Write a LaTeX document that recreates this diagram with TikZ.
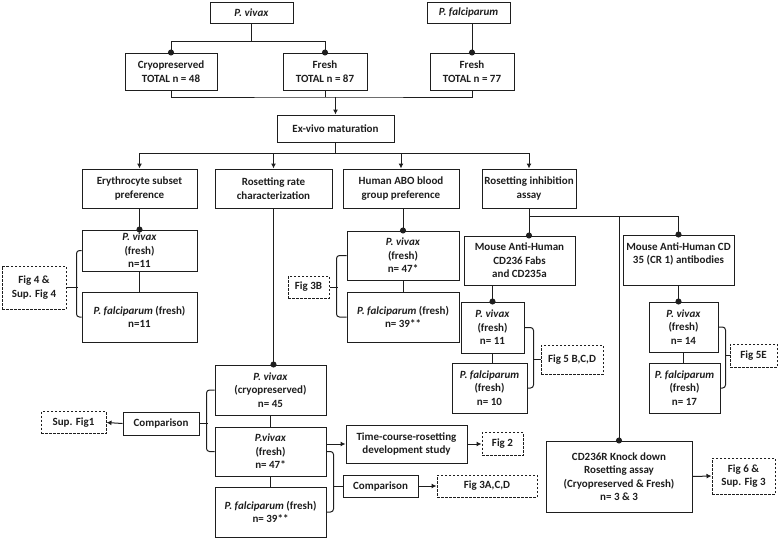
\documentclass[tikz,border=0pt]{standalone}
\usepackage{fontspec}
\setmainfont{Carlito}
\usetikzlibrary{arrows.meta}

\definecolor{linecolor}{RGB}{30,30,30}

\tikzset{
  box/.style={draw, align=center, inner sep=2pt, font=\fontsize{11}{13.5}\selectfont\bfseries},
  figbox/.style={box, dash pattern=on 2.5pt off 1.5pt},
  wh/.style 2 args={minimum width=#1, minimum height=#2},
  arr/.style={-{Latex[length=5pt,width=5pt]}},
  dotend/.style={-{Circle[length=6pt]}, shorten >=-3pt},
  brace/.style={rounded corners=3pt},
}

\begin{document}
\begin{tikzpicture}[x=1pt, y=-1pt, line width=1pt, color=linecolor]
  \useasboundingbox (0,0) rectangle (779,539);

  % Species and samples
  \node[box, wh={83}{21}] (pv) at (251.5,12.5) {\textit{P. vivax}};
  \node[box, wh={83}{21}] (pf) at (468.5,12.5) {\textit{P. falciparum}};
  \node[box, wh={92}{37}] (cryo) at (171,71.5) {Cryopreserved\\TOTAL n = 48};
  \node[box, wh={84}{37}] (pvfresh) at (325,71.5) {Fresh\\TOTAL n = 87};
  \node[box, wh={84}{37}] (pffresh) at (472,71.5) {Fresh\\TOTAL n = 77};
  \node[box, wh={117}{27}] (exvivo) at (335.5,128.5) {Ex-vivo maturation};

  % Studies
  \node[box, wh={115}{39}] (ery) at (139.5,188.5) {Erythrocyte subset\\preference};
  \node[box, wh={117}{39}] (rate) at (273.5,188.5) {Rosetting rate\\characterization};
  \node[box, wh={116}{39}] (abo) at (401,188.5) {Human ABO blood\\group preference};
  \node[box, wh={94}{39}] (inhib) at (529,188.5) {Rosetting inhibition\\assay};

  % Erythrocyte subset preference
  \node[box, wh={115}{41}] (eryPv) at (139.5,250.5) {\textit{P. vivax}\\(fresh)\\n=11};
  \node[box, wh={115}{50}] (eryPf) at (139.5,317) {\textit{P. falciparum} (fresh)\\n=11};
  \node[figbox, wh={64}{43}] (fig4) at (34,287.5) {Fig 4 \&\\Sup. Fig 4};

  % Human ABO blood group preference
  \node[box, wh={112}{49}] (aboPv) at (403,255.5) {\textit{P. vivax}\\(fresh)\\n= 47*};
  \node[box, wh={112}{50}] (aboPf) at (403,317) {\textit{P. falciparum} (fresh)\\n= 39**};
  \node[figbox, wh={41}{22}] (fig3b) at (308.5,287) {Fig 3B};

  % Rosetting inhibition assay
  \node[box, wh={111}{49}] (mouse1) at (519.5,260.5) {Mouse Anti-Human\\CD236 Fabs\\and CD235a};
  \node[box, wh={111}{50}] (mouse2) at (678.5,260) {Mouse Anti-Human CD\\35 (CR 1) antibodies\\\mbox{}};
  \node[box, wh={63}{51}] (m1Pv) at (492.5,327.5) {\textit{P. vivax}\\(fresh)\\n= 11};
  \node[box, wh={75}{50}] (m1Pf) at (489.5,388) {\textit{P. falciparum}\\(fresh)\\n= 10};
  \node[figbox, wh={62}{29}] (fig5bcd) at (572,359.5) {Fig 5 B,C,D};
  \node[box, wh={69}{50}] (m2Pv) at (683.5,327) {\textit{P. vivax}\\(fresh)\\n= 14};
  \node[box, wh={71}{50}] (m2Pf) at (684.5,388) {\textit{P. falciparum}\\(fresh)\\n= 17};
  \node[figbox, wh={47}{23}] (fig5e) at (753.5,355.5) {Fig 5E};
  \node[box, wh={146}{71}] (cd236r) at (619,476.5) {CD236R Knock down\\Rosetting assay\\(Cryopreserved \& Fresh)\\n= 3 \& 3};
  \node[figbox, wh={63}{36}] (fig6) at (743.5,476) {Fig 6 \&\\Sup. Fig 3};

  % Rosetting rate characterization
  \node[box, wh={111}{50}] (cryoPv) at (270.5,390) {\textit{P. vivax}\\(cryopreserved)\\n= 45};
  \node[box, wh={111}{49}] (freshPv) at (270.5,451.5) {\textit{P.vivax}\\(fresh)\\n= 47*};
  \node[box, wh={111}{50}] (freshPf) at (270.5,512) {\textit{P. falciparum} (fresh)\\n= 39**};
  \node[box, wh={76}{23}] (cmp1) at (161,423.5) {Comparison};
  \node[figbox, wh={65}{22}] (supfig1) at (73.5,422.5) {Sup. Fig1};
  \node[box, wh={121}{38}] (timecourse) at (406.5,444) {Time-course-rosetting\\development study};
  \node[figbox, wh={41}{23}] (fig2) at (502.5,444) {Fig 2};
  \node[box, wh={75}{22}] (cmp2) at (380.5,486) {Comparison};
  \node[figbox, wh={100}{22}] (fig3acd) at (487,486) {Fig 3A,C,D};

  % Connectors at the top
  \draw[dotend] (pv.south) -- ++(0,18) -| (cryo.north);
  \draw[dotend] (pv.south) -- ++(0,18) -| (pvfresh.north);
  \draw[dotend] (pffresh.north |- pf.south) -- (pffresh.north);
  \coordinate (merge) at (335.5,97);
  \draw (cryo.south) |- (merge) -| (pffresh.south);
  \draw (pvfresh.south) -- (pvfresh.south |- merge);
  \draw[arr] (merge) -- (exvivo.north);
  \coordinate (split) at (335.5,153);
  \draw (exvivo.south) -- (split);
  \foreach \t in {ery,rate,abo,inhib}
    \draw[arr] (split) -| (\t.north);

  % Study columns
  \draw[dotend] (ery.south) -- (eryPv.north);
  \draw (eryPv.south) -- (eryPf.north);
  \draw[dotend] (aboPv.north |- abo.south) -- (aboPv.north);
  \draw (aboPv.south) -- (aboPv.south |- aboPf.north);
  \draw[dotend] (rate.south) -- (rate.south |- cryoPv.north);
  \draw (cryoPv.south) -- (freshPv.north);
  \draw (freshPv.south) -- (freshPf.north);

  % Inhibition branches
  \draw[dotend] (inhib.south) -- (inhib.south |- mouse1.north);
  \draw[dotend] (inhib.south) -- ++(0,8) -| (mouse2.north);
  \draw[dotend] (inhib.south) -- ++(0,8) -| (cd236r.north);
  \draw[dotend] (m1Pv.north |- mouse1.south) -- (m1Pv.north);
  \draw (m1Pv.south) -- (m1Pv.south |- m1Pf.north);
  \draw[dotend] (mouse2.south) -- (mouse2.south |- m2Pv.north);
  \draw (m2Pv.south) -- (m2Pv.south |- m2Pf.north);

  % Braces
  \draw[brace] (eryPv.west) -- ++(-5,0) |- (eryPf.west);
  \draw (fig4.east) -- ++(11,0);
  \draw[brace] (aboPv.west) -- ++(-10,0) |- (aboPf.west);
  \draw (fig3b.east) -- ++(8,0);
  \draw[brace] (m1Pv.east) -- ++(9,0) |- (m1Pf.east);
  \draw (fig5bcd.west) -- ++(-8,0);
  \draw[brace] (m2Pv.east) -- ++(7,0) |- (m2Pf.east);
  \draw (fig5e.west) -- ++(-5,0);
  \draw[brace] (cryoPv.west) -- ++(-8,0) |- (freshPv.west);
  \draw (cmp1.east) -- ++(8,0);
  \draw[brace] (freshPv.east) -- ++(7,0) |- (freshPf.east);
  \draw (cmp2.west) -- ++(-10,0);

  % Outcomes
  \draw[arr] (cmp1.west) -- (supfig1.east);
  \draw[arr] (freshPv.east |- timecourse.west) -- (timecourse.west);
  \draw[arr] (timecourse.east) -- (fig2.west);
  \draw[arr] (cmp2.east) -- (fig3acd.west);
  \draw[arr] (cd236r.east) -- (fig6.west);
\end{tikzpicture}
\end{document}
